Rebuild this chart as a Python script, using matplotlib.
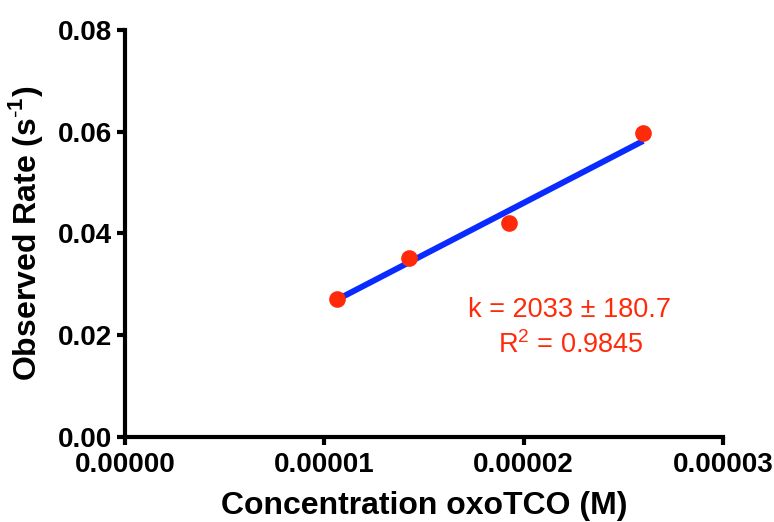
import numpy as np
import matplotlib
matplotlib.use("Agg")
import matplotlib.pyplot as plt

plt.rcParams['font.family'] = ['Liberation Sans', 'DejaVu Sans']
plt.rcParams['mathtext.fontset'] = 'custom'
plt.rcParams['mathtext.rm'] = 'Liberation Sans'
plt.rcParams['mathtext.bf'] = 'Liberation Sans:bold'

# oxoTCO concentration (M) and observed pseudo-first-order rate (s^-1)
conc = [1.062e-5, 1.427e-5, 1.927e-5, 2.600e-5]
rate = [0.0271, 0.0352, 0.0420, 0.0597]

# fitted second-order rate constant and fit quality
k = 2033
k_err = 180.7
r2 = 0.9845

x = np.array(conc)
y = np.array(rate)
b = y.mean() - k * x.mean()
xf = np.array([x.min(), x.max()])

fig = plt.figure(figsize=(7.74, 5.22), dpi=100)
ax = fig.add_axes([0.1615, 0.1632, 0.7726, 0.7793])

ax.plot(xf, k * xf + b, color="#0a2bff", lw=4.3, solid_capstyle="butt", zorder=2)
ax.plot(x, y, "o", color="#ff2a0a", ms=12, mec="none", zorder=3)

ax.set_xlim(0, 0.00003)
ax.set_ylim(0, 0.08)
ax.set_xticks([0, 0.00001, 0.00002, 0.00003])
ax.set_xticklabels(["0.00000", "0.00001", "0.00002", "0.00003"])
ax.set_yticks([0, 0.02, 0.04, 0.06, 0.08])
ax.set_yticklabels(["0.00", "0.02", "0.04", "0.06", "0.08"])

for s in ["top", "right"]:
    ax.spines[s].set_visible(False)
for s in ["left", "bottom"]:
    ax.spines[s].set_linewidth(3)
ax.tick_params(width=3, length=6, labelsize=20)
ax.tick_params(axis="x", pad=5)
for lab in ax.get_xticklabels() + ax.get_yticklabels():
    lab.set_fontweight("bold")

ax.set_xlabel("Concentration oxoTCO (M)", fontsize=23, fontweight="bold", labelpad=9)
ax.set_ylabel(r"Observed Rate (s$^{\mathbf{\text{-}1}}$)", fontsize=23, fontweight="bold", labelpad=9)

# fit annotation
ax.text(0.00002228, 0.02362, "k = %d \u00b1 %.1f" % (k, k_err),
        color="#ff2a0a", fontsize=19.5, ha="center", va="baseline")
ax.text(0.00002238, 0.01654, "R$^2$ = %.4f" % r2,
        color="#ff2a0a", fontsize=19.5, ha="center", va="baseline")

fig.savefig("out.png", dpi=100)
